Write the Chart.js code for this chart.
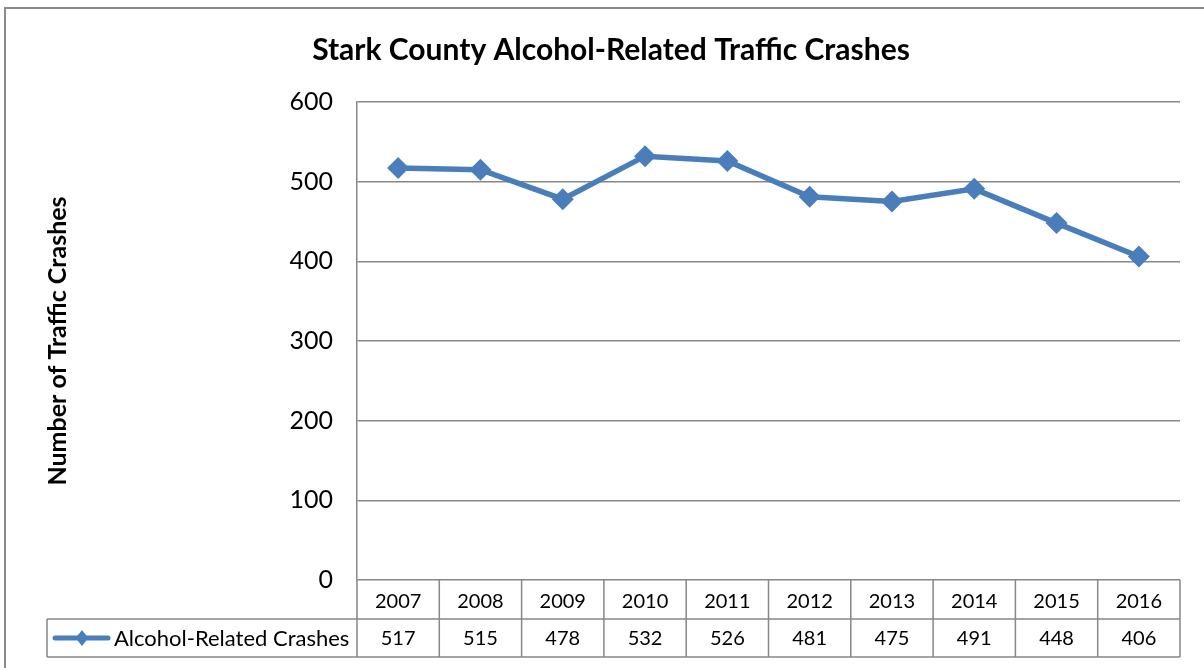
<!DOCTYPE html>
<html>
<head>
<meta charset="utf-8">
<script src="https://cdn.jsdelivr.net/npm/chart.js@4"></script>
<style>
  html, body { margin: 0; padding: 0; background: #fff; }
  canvas { display: block; }
</style>
</head>
<body>
<canvas id="c" width="1204" height="668"></canvas>
<script>
const years = ['2007','2008','2009','2010','2011','2012','2013','2014','2015','2016'];
const crashes = [517, 515, 478, 532, 526, 481, 475, 491, 448, 406];
const seriesName = 'Alcohol-Related Crashes';
const chartTitle = 'Stark County Alcohol-Related Traffic Crashes';
const yAxisTitle = 'Number of Traffic Crashes';

const FONT = 'Lato, "Open Sans", sans-serif';
const GRID = '#878787';
const LINE = '#4A7EBB';

const frame = {
  id: 'frame',
  afterDraw(chart) {
    const ctx = chart.ctx;
    ctx.save();
    ctx.strokeStyle = '#8a8a8a';
    ctx.lineWidth = 2;
    ctx.strokeRect(5, 8, 1300, 700);
    ctx.restore();
  }
};

const dataTable = {
  id: 'dataTable',
  afterDraw(chart) {
    const ctx = chart.ctx;
    const xs = chart.scales.x;
    const area = chart.chartArea;
    const n = years.length;
    const step = xs.getPixelForValue(1) - xs.getPixelForValue(0);
    const top = area.bottom;
    const mid = top + 39;
    const bot = mid + 38;
    const legLeft = 47;
    ctx.save();
    ctx.strokeStyle = GRID;
    ctx.lineWidth = 1.5;
    ctx.beginPath();
    ctx.moveTo(legLeft, mid); ctx.lineTo(area.right, mid);
    ctx.moveTo(legLeft, bot); ctx.lineTo(area.right, bot);
    ctx.moveTo(legLeft, mid); ctx.lineTo(legLeft, bot);
    for (let i = 0; i <= n; i++) {
      const bx = xs.getPixelForValue(0) - step / 2 + i * step;
      ctx.moveTo(bx, top); ctx.lineTo(bx, bot);
    }
    ctx.stroke();

    ctx.fillStyle = '#000';
    ctx.font = '20px ' + FONT;
    ctx.textAlign = 'center';
    ctx.textBaseline = 'middle';
    for (let i = 0; i < n; i++) {
      const cx = xs.getPixelForValue(i);
      ctx.fillText(years[i], cx, (top + mid) / 2 + 2);
      ctx.fillText(String(crashes[i]), cx, (mid + bot) / 2 + 1);
    }
    // legend key
    const ly = (mid + bot) / 2;
    ctx.strokeStyle = LINE;
    ctx.lineWidth = 5;
    ctx.lineCap = 'round';
    ctx.beginPath();
    ctx.moveTo(55, ly); ctx.lineTo(108, ly);
    ctx.stroke();
    ctx.fillStyle = LINE;
    ctx.beginPath();
    const dx = 82, r = 8;
    ctx.moveTo(dx, ly - r); ctx.lineTo(dx + r * 0.8, ly); ctx.lineTo(dx, ly + r); ctx.lineTo(dx - r * 0.8, ly);
    ctx.closePath(); ctx.fill();
    ctx.fillStyle = '#000';
    ctx.textAlign = 'left';
    ctx.font = '22px ' + FONT;
    ctx.fillText(seriesName, 114, ly + 1);
    ctx.restore();
  }
};

new Chart(document.getElementById('c'), {
  type: 'line',
  data: {
    labels: years,
    datasets: [{
      label: seriesName,
      data: crashes,
      borderColor: LINE,
      backgroundColor: LINE,
      borderWidth: 5.5,
      pointStyle: 'rectRot',
      pointRadius: 11,
      pointHoverRadius: 11,
      pointBackgroundColor: LINE,
      pointBorderColor: LINE,
      pointBorderWidth: 0,
      tension: 0
    }]
  },
  options: {
    responsive: false,
    animation: false,
    events: [],
    layout: { padding: { left: 42, right: 24, top: 8, bottom: 88 } },
    plugins: {
      legend: { display: false },
      tooltip: { enabled: false },
      title: {
        display: true,
        text: chartTitle,
        color: '#000',
        font: { family: FONT, size: 30, weight: 'bold' },
        padding: { top: 24, bottom: 34 }
      }
    },
    scales: {
      x: {
        type: 'category',
        offset: true,
        display: false
      },
      y: {
        min: 0,
        max: 600,
        afterFit(s) { s.width = 315; },
        ticks: {
          stepSize: 100,
          color: '#000',
          padding: 24,
          font: { family: FONT, size: 25 }
        },
        grid: { color: GRID, lineWidth: 1.5, drawTicks: false },
        border: { display: true, color: GRID, width: 1.5 },
        title: {
          display: true,
          text: yAxisTitle,
          color: '#000',
          font: { family: FONT, size: 25, weight: 'bold' },
          padding: { top: 1, bottom: 4 }
        }
      }
    }
  },
  plugins: [frame, dataTable]
});
</script>
</body>
</html>
